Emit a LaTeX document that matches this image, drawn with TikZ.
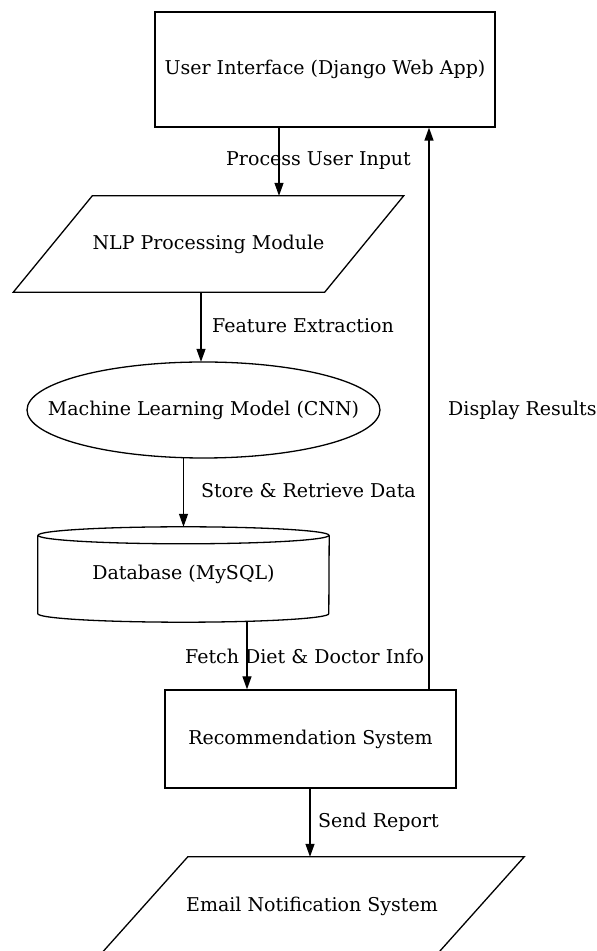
\documentclass[tikz,border=0pt]{standalone}
\usepackage{fontspec}
\setmainfont{DejaVu Serif}
\usetikzlibrary{arrows.meta}
\begin{document}
\begin{tikzpicture}[x=1pt,y=1pt,
  every node/.style={font=\fontsize{19}{23}\selectfont},
  boxnode/.style={draw, rectangle, inner sep=0, line width=1.3pt},
  plain/.style={draw=none, rectangle, inner sep=0},
  outline/.style={line width=1.3pt, line join=miter},
  lbl/.style={anchor=west, inner sep=0},
  arr/.style={line width=1.3pt, -{Triangle[length=13pt,width=9pt]}}]
\useasboundingbox (0,0) rectangle (597,951);
\clip (0,0) rectangle (597,951);
% User interface
\node[boxnode, minimum width=340pt, minimum height=115pt] (ui) at (325,881.5) {User Interface (Django Web App)};
% NLP parallelogram
\node[plain, minimum width=311pt, minimum height=96pt] (nlp) at (208.5,707) {NLP Processing Module};
\draw[outline] ([xshift=39.5pt]nlp.north west) -- ([xshift=39.5pt]nlp.north east) -- ([xshift=-39.5pt]nlp.south east) -- ([xshift=-39.5pt]nlp.south west) -- cycle;
% ML ellipse
\node[plain, minimum width=353pt, minimum height=96pt] (ml) at (203.5,541) {Machine Learning Model (CNN)};
\draw[outline] (ml.center) ellipse [x radius=176.5pt, y radius=48pt];
% Database cylinder
\node[plain, minimum width=291pt, minimum height=95pt] (db) at (183.5,376.5) {Database (MySQL)};
\draw[outline] ([yshift=-8.5pt]db.north) ellipse [x radius=145.5pt, y radius=8.5pt];
\draw[outline] ([yshift=-8.5pt]db.north west) -- ([yshift=8.5pt]db.south west) arc[start angle=180, end angle=360, x radius=145.5pt, y radius=8.5pt] -- ([yshift=-8.5pt]db.north east);
% Recommendation
\node[boxnode, minimum width=291pt, minimum height=98pt] (rec) at (310.5,212) {Recommendation System};
% Email parallelogram (bottom edge falls just outside the picture)
\node[plain, minimum width=336pt, minimum height=98pt] (email) at (312,45) {Email Notification System};
\draw[outline] ([xshift=44pt]email.north west) -- ([xshift=44pt]email.north east) -- ([xshift=-44pt]email.south east) -- ([xshift=-44pt]email.south west) -- cycle;
% connectors
\coordinate (x1) at (279,0);
\coordinate (x2) at (201,0);
\coordinate (x3) at (183.5,0);
\coordinate (x4) at (247,0);
\coordinate (x5) at (429,0);
\coordinate (x6) at (310,0);
\draw[arr] (ui.south -| x1) -- (nlp.north -| x1);
\draw[arr] (nlp.south -| x2) -- (ml.north -| x2);
\draw[arr] (ml.south -| x3) -- (db.north -| x3);
\draw[arr] (db.south -| x4) -- (rec.north -| x4);
\draw[arr] (rec.south -| x6) -- (email.north -| x6);
\draw[arr] (rec.north -| x5) -- (ui.south -| x5);
\node[lbl] (l1) at (226,790) {Process User Input};
\node[lbl] (l2) at (212,625) {Feature Extraction};
\node[lbl] (l3) at (201,460) {Store \& Retrieve Data};
\node[lbl] (l4) at (185,295) {Fetch Diet \& Doctor Info};
\node[lbl] (l5) at (318,129) {Send Report};
\node[lbl] (l6) at (448,541) {Display Results};
\end{tikzpicture}
\end{document}
